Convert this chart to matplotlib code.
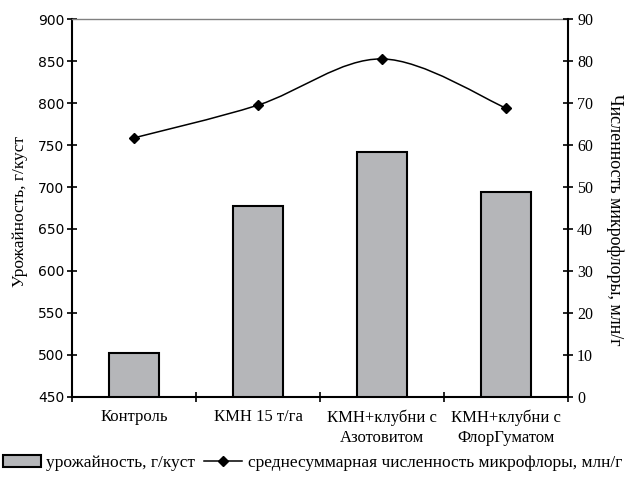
import numpy as np
from matplotlib import pyplot as plt
from matplotlib.path import Path
from matplotlib.patches import PathPatch, Patch
from matplotlib.lines import Line2D

categories = ["Контроль", "КМН 15 т/га", "КМН+клубни с\nАзотовитом", "КМН+клубни с\nФлорГуматом"]
yield_vals = [502, 677, 742, 694]          # урожайность, г/куст
micro_vals = [61.7, 69.5, 80.5, 68.8]      # численность микрофлоры, млн/г

serif = "Liberation Serif"


def smooth_path(xs, ys, t=1 / 6):
    '''Catmull-Rom style bezier path through the points (Excel smoothed line)'''
    pts = list(zip(xs, ys))
    verts = [pts[0]]
    codes = [Path.MOVETO]
    n = len(pts)
    for i in range(n - 1):
        p0 = pts[i - 1] if i > 0 else pts[i]
        p1 = pts[i]
        p2 = pts[i + 1]
        p3 = pts[i + 2] if i + 2 < n else pts[i + 1]
        c1 = (p1[0] + (p2[0] - p0[0]) * t, p1[1] + (p2[1] - p0[1]) * t)
        c2 = (p2[0] - (p3[0] - p1[0]) * t, p2[1] - (p3[1] - p1[1]) * t)
        verts += [c1, c2, p2]
        codes += [Path.CURVE4] * 3
    return Path(verts, codes)


fig = plt.figure(figsize=(6.25, 4.84), dpi=100)
ax = fig.add_axes([0.1152, 0.1798, 0.7936, 0.7809])
x = np.arange(len(categories))

ax.bar(x, yield_vals, width=0.41, color="#b5b6b9",
       edgecolor="black", linewidth=1.5, zorder=2)
ax.set_ylim(450, 900)
ax.set_xlim(-0.5, len(categories) - 0.5)
ax.set_yticks(range(450, 901, 50))
ax.tick_params(axis="y", direction="inout", length=7, width=1.2, labelsize=10, pad=2)
ax.set_xticks(np.arange(len(categories) + 1) - 0.5)
ax.set_xticklabels([])
ax.set_xticks(x, minor=True)
ax.set_xticklabels(categories, minor=True, fontfamily=serif, fontsize=12,
                   linespacing=1.3)
ax.tick_params(axis="x", which="major", direction="inout", length=7, width=1.2)
ax.tick_params(axis="x", which="minor", length=0, pad=9)
ax.set_ylabel("Урожайность, г/куст", fontfamily=serif, fontsize=12.5)
ax.yaxis.set_label_coords(-0.089, 0.49)

for s in ["left", "bottom"]:
    ax.spines[s].set_linewidth(1.5)
ax.spines["top"].set_color("#808080")
ax.spines["top"].set_linewidth(1)
ax.spines["right"].set_visible(False)

ax2 = ax.twinx()
ax2.set_ylim(0, 90)
ax2.set_yticks(range(0, 91, 10))
ax2.tick_params(axis="y", direction="inout", length=7, width=1.2, labelsize=11.5, pad=3)
for lab in ax2.get_yticklabels():
    lab.set_fontfamily(serif)
ax2.spines["right"].set_linewidth(1.5)
for s in ["left", "top", "bottom"]:
    ax2.spines[s].set_visible(False)
ax2.set_ylabel("Численность микрофлоры, млн/г", fontfamily=serif, fontsize=13,
               rotation=270)
ax2.yaxis.set_label_coords(1.111, 0.468)

ax2.add_patch(PathPatch(smooth_path(x, micro_vals), facecolor="none",
                        edgecolor="black", linewidth=1.1, zorder=3))
ax2.plot(x, micro_vals, linestyle="none", marker="D", markersize=5,
         color="black", zorder=4)

handles = [Patch(facecolor="#b5b6b9", edgecolor="black", linewidth=1.5),
           Line2D([], [], color="black", linewidth=1.1, marker="D", markersize=5)]
fig.legend(handles, ["урожайность, г/куст",
                     "среднесуммарная численность микрофлоры, млн/г"],
           loc="center", bbox_to_anchor=(0.5, 0.043), ncol=2, frameon=False,
           prop={"family": serif, "size": 12.5}, handlelength=2.2,
           handletextpad=0.3, columnspacing=0.5, borderaxespad=0)

fig.savefig("out.png", dpi=100)
